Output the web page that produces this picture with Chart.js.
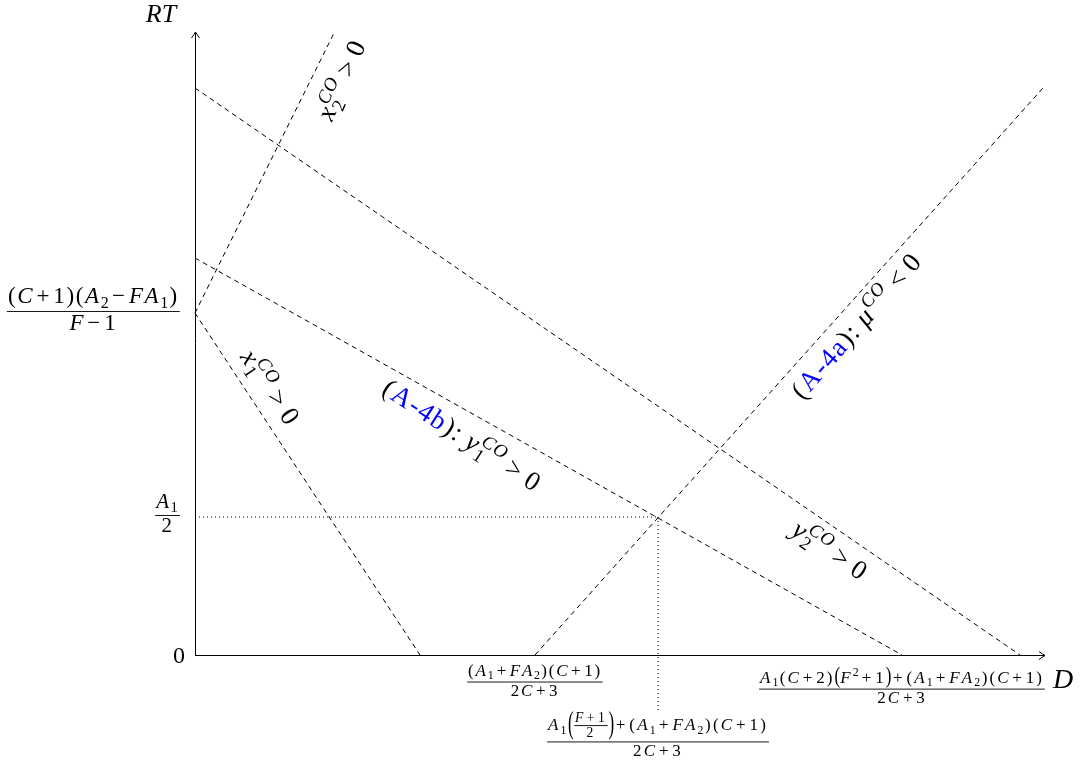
<!DOCTYPE html>
<html><head><meta charset="utf-8">
<script src="https://cdn.jsdelivr.net/npm/chart.js@4.4.1/dist/chart.umd.min.js"></script>
<style>html,body{margin:0;padding:0;background:#fff;}canvas{display:block;}</style>
</head><body>
<canvas id="c" width="1085" height="767"></canvas>
<script>
// ---- diagram data (abstract units) ----
const xMax = 850;
const yMax = 623;
const yTickValues = [0, 138, 342];
const xTickValues = [340, 463, 707];
const lineX1 = [[0, 342], [225, 0]];
const lineX2 = [[0, 342], [139, 622]];
const lineY1 = [[0, 397], [707, 0]];
const lineY2 = [[0, 567], [825, 0]];
const lineMu = [[340, 0], [848, 567]];
const dottedH = [[0, 138], [463, 138]];
const dottedV = [[463, 138], [463, -55]];

// ---- tick labels (math markup) ----
const yTickLabels = [
  ['0'],
  [{frac: [['A_1'], ['2']]}],
  [{frac: [['(C+1)(A_2−FA_1)'], ['F−1']]}]
];
const xTickLabels = [
  [{frac: [['(A_1+FA_2)(C+1)'], ['2C+3']]}],
  [{frac: [['A_1', {paren: [{frac: [['F+1'], ['2']], scale: 0.8}]}, '+(A_1+FA_2)(C+1)'], ['2C+3']]}],
  [{frac: [['A_1(C+2)', {paren: ['F^2+1']}, '+(A_1+FA_2)(C+1)'], ['2C+3']]}]
];
const axisLabelX = 'D';
const axisLabelY = 'RT';
const lineLabels = [
  {items: ['x_2^{CO}>0'], cx: 342, cy: 80, angle: -66},
  {items: ['x_1^{CO}>0'], cx: 270, cy: 388, angle: 56},
  {items: ['(', {m: 'A-4b', rm: true, color: '#0000ff'}, '):', 'y_1^{CO}>0'], cx: 462, cy: 436, angle: 33},
  {items: ['(', {m: 'A-4a', rm: true, color: '#0000ff'}, '):', 'μ^{CO}<0'], cx: 857, cy: 326, angle: -49},
  {items: ['y_2^{CO}>0'], cx: 830, cy: 551, angle: 34}
];

// ---- tiny math text renderer ----
const FAM = "'Liberation Serif', serif";
function fontStr(it, sz) { return (it ? 'italic ' : '') + sz + 'px ' + FAM; }
function parse(str) {
  const groups = []; let i = 0;
  while (i < str.length) {
    const c = str[i];
    if (c === '_' || c === '^') {
      i++; let g;
      if (str[i] === '{') { const j = str.indexOf('}', i); g = str.slice(i + 1, j); i = j + 1; }
      else { g = str[i]; i++; }
      groups.push({kind: c === '_' ? 'sub' : 'sup', text: g});
    } else { groups.push({kind: 'ch', text: c}); i++; }
  }
  return groups;
}
function isIt(ch) { return /[A-Za-zμ]/.test(ch); }
function spacing(ch, sz) {
  if (ch === '+' || ch === '−') return 0.1 * sz;
  if (ch === '>' || ch === '<') return 0.22 * sz;
  return 0;
}
function runText(ctx, str, x, y, sz, opt, draw) {
  const tr = opt.track || 0;
  const groups = parse(str);
  let cx = x, prev = null, prevStart = 0;
  for (const g of groups) {
    if (g.kind === 'ch') {
      const ch = g.text;
      if (ch === ' ') { prev = g; continue; }
      const sp = spacing(ch, sz);
      cx += sp;
      ctx.font = fontStr(isIt(ch) && !opt.rm, sz);
      const w = ctx.measureText(ch).width;
      if (draw) ctx.fillText(ch, cx, y);
      cx += w + sp + tr;
      if (ch === ':') cx += 0.25 * sz;
      prev = g;
    } else {
      const ss = sz * 0.7;
      const dy = g.kind === 'sub' ? 0.2 * sz : -0.4 * sz;
      const stacked = prev && prev.kind !== 'ch' && prev.kind !== g.kind;
      let sx = stacked ? prevStart : cx;
      const start = sx;
      for (const ch of g.text) {
        ctx.font = fontStr(isIt(ch) && !opt.rm, ss);
        const w = ctx.measureText(ch).width;
        if (draw) ctx.fillText(ch, sx, y + dy);
        sx += w + tr * 0.7;
      }
      cx = stacked ? Math.max(cx, sx) : sx;
      prevStart = start; prev = g;
    }
  }
  return cx - x;
}
function strOf(it) { return typeof it === 'string' ? it : it.m; }
function measure(ctx, items, sz, opt) {
  let w = 0, asc = 0.7 * sz, desc = 0.2 * sz;
  for (const it of items) {
    if (typeof it === 'string' || it.m !== undefined) {
      const s = strOf(it);
      w += runText(ctx, s, 0, 0, sz, {...opt, rm: it.rm}, false);
      if (s.includes('^')) asc = Math.max(asc, 0.88 * sz);
      if (s.includes('_')) desc = Math.max(desc, 0.26 * sz);
    } else if (it.frac) {
      const fs = sz * (it.scale || 1);
      const n = measure(ctx, it.frac[0], fs, opt), d = measure(ctx, it.frac[1], fs, opt);
      const fw = Math.max(n.w, d.w) + 0.2 * fs;
      const axis = 0.27 * sz, gap = 0.1 * fs;
      w += fw;
      asc = Math.max(asc, axis + gap + n.desc + n.asc);
      desc = Math.max(desc, d.asc + gap + d.desc - axis);
    } else if (it.paren) {
      const m = measure(ctx, it.paren, sz, opt);
      ctx.font = fontStr(false, sz);
      const pw = ctx.measureText('(').width;
      w += m.w + 2 * pw;
      asc = Math.max(asc, m.asc + 0.06 * sz); desc = Math.max(desc, m.desc + 0.06 * sz);
    }
  }
  return {w, asc, desc};
}
function drawParen(ctx, ch, x, top, bot, sz) {
  const k = (bot - top) / (0.92 * sz);
  const yc = (top + bot) / 2;
  ctx.save();
  ctx.translate(x, yc);
  ctx.scale(1, k);
  ctx.font = fontStr(false, sz);
  ctx.fillText(ch, 0, 0.24 * sz);
  ctx.restore();
}
function drawItems(ctx, items, x, y, sz, opt) {
  let cx = x;
  for (const it of items) {
    if (typeof it === 'string' || it.m !== undefined) {
      ctx.fillStyle = it.color || '#000';
      cx += runText(ctx, strOf(it), cx, y, sz, {...opt, rm: it.rm}, true);
      ctx.fillStyle = '#000';
    } else if (it.frac) {
      const fs = sz * (it.scale || 1);
      const n = measure(ctx, it.frac[0], fs, opt), d = measure(ctx, it.frac[1], fs, opt);
      const fw = Math.max(n.w, d.w) + 0.2 * fs;
      const barY = y - 0.27 * sz, gap = 0.1 * fs;
      drawItems(ctx, it.frac[0], cx + (fw - n.w) / 2, barY - gap - n.desc, fs, opt);
      drawItems(ctx, it.frac[1], cx + (fw - d.w) / 2, barY + gap + d.asc, fs, opt);
      ctx.fillRect(cx + 0.05 * fs, barY - 0.45, fw - 0.1 * fs, 0.9);
      cx += fw;
    } else if (it.paren) {
      const m = measure(ctx, it.paren, sz, opt);
      ctx.font = fontStr(false, sz);
      const pw = ctx.measureText('(').width;
      const top = y - m.asc - 0.06 * sz, bot = y + m.desc + 0.06 * sz;
      drawParen(ctx, '(', cx, top, bot, sz);
      cx += pw;
      cx += drawItems(ctx, it.paren, cx, y, sz, opt);
      drawParen(ctx, ')', cx, top, bot, sz);
      cx += pw;
    }
  }
  return cx - x;
}

function arrow(ctx, x, y, ang) {
  ctx.save();
  ctx.translate(x, y); ctx.rotate(ang);
  ctx.beginPath();
  ctx.moveTo(-6, -4); ctx.quadraticCurveTo(-2, -1, 0, 0);
  ctx.moveTo(-6, 4); ctx.quadraticCurveTo(-2, 1, 0, 0);
  ctx.lineWidth = 1; ctx.strokeStyle = '#000';
  ctx.stroke();
  ctx.restore();
}

const diagramPlugin = {
  id: 'diagram',
  afterDatasetsDraw(chart) {
    const ctx = chart.ctx, sx = chart.scales.x, sy = chart.scales.y;
    const X = v => sx.getPixelForValue(v), Y = v => sy.getPixelForValue(v);
    ctx.save();
    ctx.strokeStyle = '#000'; ctx.fillStyle = '#000'; ctx.lineWidth = 1;
    ctx.textBaseline = 'alphabetic'; ctx.textAlign = 'left';
    // axes
    ctx.beginPath();
    ctx.moveTo(X(0), Y(0) + 0.5); ctx.lineTo(X(xMax), Y(0) + 0.5);
    ctx.moveTo(X(0) + 0.5, Y(0)); ctx.lineTo(X(0) + 0.5, Y(yMax));
    ctx.stroke();
    arrow(ctx, X(xMax), Y(0) + 0.5, 0);
    arrow(ctx, X(0) + 0.5, Y(yMax), -Math.PI / 2);

    // y tick labels (right aligned)
    const ySizes = [24, 21, 23];
    const yTrack = [0, 1.5, 1.6];
    yTickLabels.forEach((lab, i) => {
      const sz = ySizes[i];
      const m = measure(ctx, lab, sz, {track: yTrack[i]});
      const right = X(0) - (i === 0 ? 10 : 14);
      const base = Y(yTickValues[i]) + (i === 0 ? 0.33 * sz : 0.27 * sz - 1.5);
      drawItems(ctx, lab, right - m.w, base, sz, {track: yTrack[i]});
    });
    // x tick labels (centred, below)
    const xTops = [Y(0) + 9, Y(-55) + 1, Y(0) + 12];
    const xTrack = [1.8, 2.2, 2.1];
    xTickLabels.forEach((lab, i) => {
      const sz = 17;
      const m = measure(ctx, lab, sz, {track: xTrack[i]});
      const base = xTops[i] + m.asc;
      drawItems(ctx, lab, X(xTickValues[i]) - m.w / 2, base, sz, {track: xTrack[i]});
    });
    // axis labels
    drawItems(ctx, [axisLabelX], X(xMax) + 8, Y(0) + 33, 28, {});
    const mY = measure(ctx, [axisLabelY], 26, {});
    drawItems(ctx, [axisLabelY], X(0) - 34 - mY.w / 2, Y(yMax) - 10, 26, {});
    // sloped line labels
    lineLabels.forEach(L => {
      const sz = 27;
      const m = measure(ctx, L.items, sz, {track: 1.5});
      ctx.save();
      ctx.translate(L.cx, L.cy);
      ctx.rotate(L.angle * Math.PI / 180);
      drawItems(ctx, L.items, -m.w / 2, 0.3 * sz, sz, {track: 1.5});
      ctx.restore();
    });
    ctx.restore();
  }
};

const toPts = arr => arr.map(([x, y]) => ({x, y}));
const dashed = (arr) => ({data: toPts(arr), showLine: true, borderColor: '#000', borderWidth: 1,
  borderDash: [5, 4], pointRadius: 0, fill: false, clip: false, tension: 0});
const dotted = (arr) => ({data: toPts(arr), showLine: true, borderColor: '#000', borderWidth: 1,
  borderDash: [1, 3], pointRadius: 0, fill: false, clip: false, tension: 0});

new Chart(document.getElementById('c'), {
  type: 'scatter',
  data: {datasets: [dashed(lineX1), dashed(lineX2), dashed(lineY1), dashed(lineY2), dashed(lineMu), dotted(dottedH), dotted(dottedV)]},
  options: {
    responsive: false,
    animation: false,
    devicePixelRatio: 1,
    layout: {padding: {left: 195, right: 40, top: 32, bottom: 112}},
    plugins: {legend: {display: false}, tooltip: {enabled: false}},
    scales: {
      x: {type: 'linear', min: 0, max: xMax, display: false},
      y: {type: 'linear', min: 0, max: yMax, display: false}
    }
  },
  plugins: [diagramPlugin]
});
</script>
</body></html>
